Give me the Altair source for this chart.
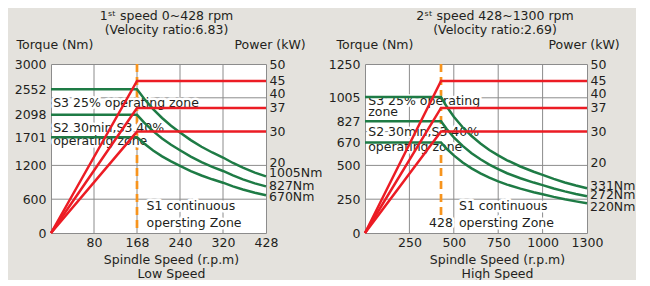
import altair as alt
import pandas as pd

FONT = "DejaVu Sans"
FS = 12.5
TXT = "#231f20"
GREEN = "#1e7b45"
RED = "#ec1c24"
ORANGE = "#f7941d"
GRID = "#8c8c8c"
BG = "#e4e2dd"

# ---------------- data: 1st speed (low) ----------------
low_title = "1ˢᵗ speed 0~428 rpm"
low_subtitle = "(Velocity ratio:6.83)"
low_x_ticks = [0, 80, 168, 240, 320, 428]
low_x_labels = [80, 168, 240, 320, 428]
low_x_grid = [80, 168, 240, 320]
low_y_grid = [600, 1200, 1800, 2400]
low_y_labels = [0, 600, 1200, 1701, 2098, 2552, 3000]
low_base_rpm = 168
low_rpm = [0, 168, 180, 195, 210, 225, 240, 260, 280, 300, 320, 345, 370, 400, 428]
low_torque_a = [2552, 2552, 2382, 2199, 2042, 1905, 1786, 1649, 1531, 1429, 1340,
                1243, 1159, 1072, 1005]
low_torque_b = [2098, 2098, 1958, 1808, 1678, 1567, 1469, 1356, 1259, 1175, 1101,
                1022, 953, 881, 827]
low_torque_c = [1701, 1701, 1588, 1465, 1361, 1270, 1191, 1099, 1021, 953, 893,
                828, 772, 714, 670]
low_power_rpm = [0, 168, 428]
low_power_a = [0, 45, 45]
low_power_b = [0, 37, 37]
low_power_c = [0, 30, 30]
low_end_labels = ["1005Nm", "827Nm", "670Nm"]
low_end_values = [1005, 827, 670]
low_note_text = ["S3 25% operating zone", "S2 30min,S3 40%", "operating zone",
                 "S1 continuous", "opersting Zone"]
low_note_rpm = [4, 4, 4, 184, 184]
low_note_torque = [2242, 1787, 1562, 408, 112]

# ---------------- data: 2nd speed (high) ----------------
high_title = "2ˢᵗ speed 428~1300 rpm"
high_subtitle = "(Velocity ratio:2.69)"
high_x_ticks = [0, 250, 500, 750, 1000, 1300]
high_x_labels = [250, 500, 750, 1000, 1300]
high_x_grid = [250, 500, 750, 1000]
high_y_grid = [250, 500, 750, 1000]
high_y_labels = [0, 250, 500, 670, 827, 1005, 1250]
high_base_rpm = 428
high_rpm = [0, 428, 460, 500, 550, 600, 650, 700, 750, 800, 875, 950, 1000, 1075,
            1150, 1225, 1300]
high_torque_a = [1005, 1005, 935, 860, 782, 717, 662, 614, 574, 538, 492, 453, 430,
                 400, 374, 351, 331]
high_torque_b = [827, 827, 769, 708, 644, 590, 545, 506, 472, 442, 405, 373, 354,
                 329, 308, 289, 272]
high_torque_c = [670, 670, 623, 574, 521, 478, 441, 410, 382, 358, 328, 302, 287,
                 267, 249, 234, 220]
high_power_rpm = [0, 428, 1300]
high_power_a = [0, 45, 45]
high_power_b = [0, 37, 37]
high_power_c = [0, 30, 30]
high_end_labels = ["331Nm", "272Nm", "220Nm"]
high_end_values = [331, 272, 220]
high_note_text = ["S3 25% operating", "zone", "S2 30min,S3 40%", "operating zone",
                  "S1 continuous", "opersting Zone"]
high_note_rpm = [18, 18, 18, 18, 529, 529]
high_note_torque = [947, 865, 717, 609, 170, 47]
high_base_label = "428"
high_base_label_torque = 42

power_labels = [20, 30, 37, 40, 45, 50]
series_names = ["S3 25%", "S2 30min,S3 40%", "S1"]

# style-only nudges for the stacked end labels (pixels)
low_end_nudge = [-3.5, 0, 1.5]
high_end_nudge = [-2, -1, 4]

PLOT_H = 169


def panel(title, subtitle, title_dx, width, x_ticks, x_labels, x_grid, y_max,
          y_grid, y_labels, rpm, curves, p_rpm, powers, base_rpm, end_labels,
          end_values, end_nudge, note_text, note_rpm, note_torque, x_title,
          ytitle_x, ptitle_x, xtitle_x, base_label=None, base_label_torque=None):
    n = len(x_ticks) - 1
    xscale = alt.Scale(domain=x_ticks, range=[width * i / n for i in range(n + 1)],
                       nice=False, zero=False)
    yscale = alt.Scale(domain=[0, y_max], nice=False)
    pscale = alt.Scale(domain=[0, 50], nice=False)

    x_axis = alt.Axis(
        values=x_labels, format="d", grid=False, domain=False, ticks=False,
        labelPadding=3, labelFlush=False, labelOverlap=False, title=x_title,
        titleX=xtitle_x, titleY=20, titleAlign="center", titleBaseline="top",
        titleLineHeight=14)
    y_axis = alt.Axis(
        values=y_labels, format="d", grid=False, domain=False, ticks=False,
        labelPadding=5, labelFlush=False, labelOverlap=False, title="Torque (Nm)",
        titleAngle=0, titleAlign="left", titleBaseline="middle", titleX=ytitle_x,
        titleY=-20)
    p_axis = alt.Axis(
        orient="right", values=power_labels, format="d", grid=False, domain=False,
        ticks=False, labelPadding=3, labelFlush=False, labelOverlap=False,
        labelOffset={"condition": [{"test": "datum.value === 40", "value": -4},
                                   {"test": "datum.value === 20", "value": -3}],
                     "value": 0},
        title="Power (kW)", titleAngle=0, titleAlign="left",
        titleBaseline="middle", titleX=ptitle_x, titleY=-20)

    X = lambda f: alt.X(f, scale=xscale, axis=x_axis)
    Y = lambda f: alt.Y(f, scale=yscale, axis=y_axis)

    ygrid = alt.Chart(pd.DataFrame({"torque": y_grid})).mark_rule(
        color=GRID, strokeWidth=1).encode(y=Y("torque:Q"))
    xgrid = alt.Chart(pd.DataFrame({"rpm": x_grid})).mark_rule(
        color=GRID, strokeWidth=1).encode(x=X("rpm:Q"))
    orange = alt.Chart(pd.DataFrame({"rpm": [base_rpm]})).mark_rule(
        color=ORANGE, strokeWidth=2.7, strokeDash=[8, 5]).encode(x=X("rpm:Q"))

    notes = pd.DataFrame({"label": note_text, "rpm": note_rpm, "torque": note_torque})
    halo = alt.Chart(notes).mark_text(
        align="left", baseline="alphabetic", font=FONT, fontSize=FS,
        color="white", stroke="white", strokeWidth=5, strokeJoin="round").encode(
        x=X("rpm:Q"), y=Y("torque:Q"), text="label:N")
    text = alt.Chart(notes).mark_text(
        align="left", baseline="alphabetic", font=FONT, fontSize=FS, color=TXT).encode(
        x=X("rpm:Q"), y=Y("torque:Q"), text="label:N")

    rows = []
    for name, vals in zip(series_names, curves):
        for r, t in zip(rpm, vals):
            rows.append({"series": name, "rpm": r, "torque": t})
    green = alt.Chart(pd.DataFrame(rows)).mark_line(
        color=GREEN, strokeWidth=2.5).encode(
        x=X("rpm:Q"), y=Y("torque:Q"), detail="series:N")

    layers = [ygrid, xgrid, orange, halo, text, green]

    for lab, val, nud in zip(end_labels, end_values, end_nudge):
        layers.append(alt.Chart(pd.DataFrame({"label": [lab], "rpm": [x_ticks[-1]],
                                              "torque": [val]})).mark_text(
            align="left", baseline="middle", dx=3, dy=nud, font=FONT, fontSize=FS,
            color=TXT).encode(x=X("rpm:Q"), y=Y("torque:Q"), text="label:N"))

    if base_label is not None:
        bl = pd.DataFrame({"label": [base_label], "rpm": [base_rpm],
                           "torque": [base_label_torque]})
        layers.append(alt.Chart(bl).mark_text(
            align="center", baseline="alphabetic", font=FONT, fontSize=FS,
            color="white", stroke="white", strokeWidth=5).encode(
            x=X("rpm:Q"), y=Y("torque:Q"), text="label:N"))
        layers.append(alt.Chart(bl).mark_text(
            align="center", baseline="alphabetic", font=FONT, fontSize=FS,
            color=TXT).encode(x=X("rpm:Q"), y=Y("torque:Q"), text="label:N"))

    torque_group = alt.layer(*layers)

    prow = []
    for name, vals in zip(series_names, powers):
        for r, p in zip(p_rpm, vals):
            prow.append({"series": name, "rpm": r, "kw": p})
    red = alt.Chart(pd.DataFrame(prow)).mark_line(
        color=RED, strokeWidth=2.5).encode(
        x=X("rpm:Q"),
        y=alt.Y("kw:Q", scale=pscale, axis=p_axis),
        detail="series:N")

    return alt.layer(torque_group, red).resolve_scale(y="independent").properties(
        width=width, height=PLOT_H,
        title=alt.Title(text=title, subtitle=subtitle, anchor="middle", frame="group",
                        dx=title_dx, offset=2, font=FONT, fontSize=FS,
                        fontWeight="normal", color=TXT, subtitleFont=FONT,
                        subtitleFontSize=FS, subtitleColor=TXT, subtitlePadding=1))


left = panel(low_title, low_subtitle, 8, 215, low_x_ticks, low_x_labels, low_x_grid,
             3000, low_y_grid, low_y_labels, low_rpm,
             [low_torque_a, low_torque_b, low_torque_c], low_power_rpm,
             [low_power_a, low_power_b, low_power_c], low_base_rpm, low_end_labels,
             low_end_values, low_end_nudge, low_note_text, low_note_rpm, low_note_torque,
             ["Spindle Speed (r.p.m)", "Low Speed"], -35, -32, 120)

right = panel(high_title, high_subtitle, 19, 222, high_x_ticks, high_x_labels,
              high_x_grid, 1250, high_y_grid, high_y_labels, high_rpm,
              [high_torque_a, high_torque_b, high_torque_c], high_power_rpm,
              [high_power_a, high_power_b, high_power_c], high_base_rpm,
              high_end_labels, high_end_values, high_end_nudge, high_note_text,
              high_note_rpm, high_note_torque, ["Spindle Speed (r.p.m)", "High Speed"],
              -29, -39, 132, base_label=high_base_label,
              base_label_torque=high_base_label_torque)

chart = alt.hconcat(left, right, spacing=4).properties(
    background=BG, padding={"left": 5, "top": 1, "right": 0, "bottom": 0}
).configure_view(fill="white", stroke=GRID, strokeWidth=1).configure_axis(
    labelFont=FONT, labelFontSize=FS, labelColor=TXT, titleFont=FONT,
    titleFontSize=FS, titleColor=TXT, titleFontWeight="normal")

chart.save("out.html", embed_options={"renderer": "svg", "actions": False})
